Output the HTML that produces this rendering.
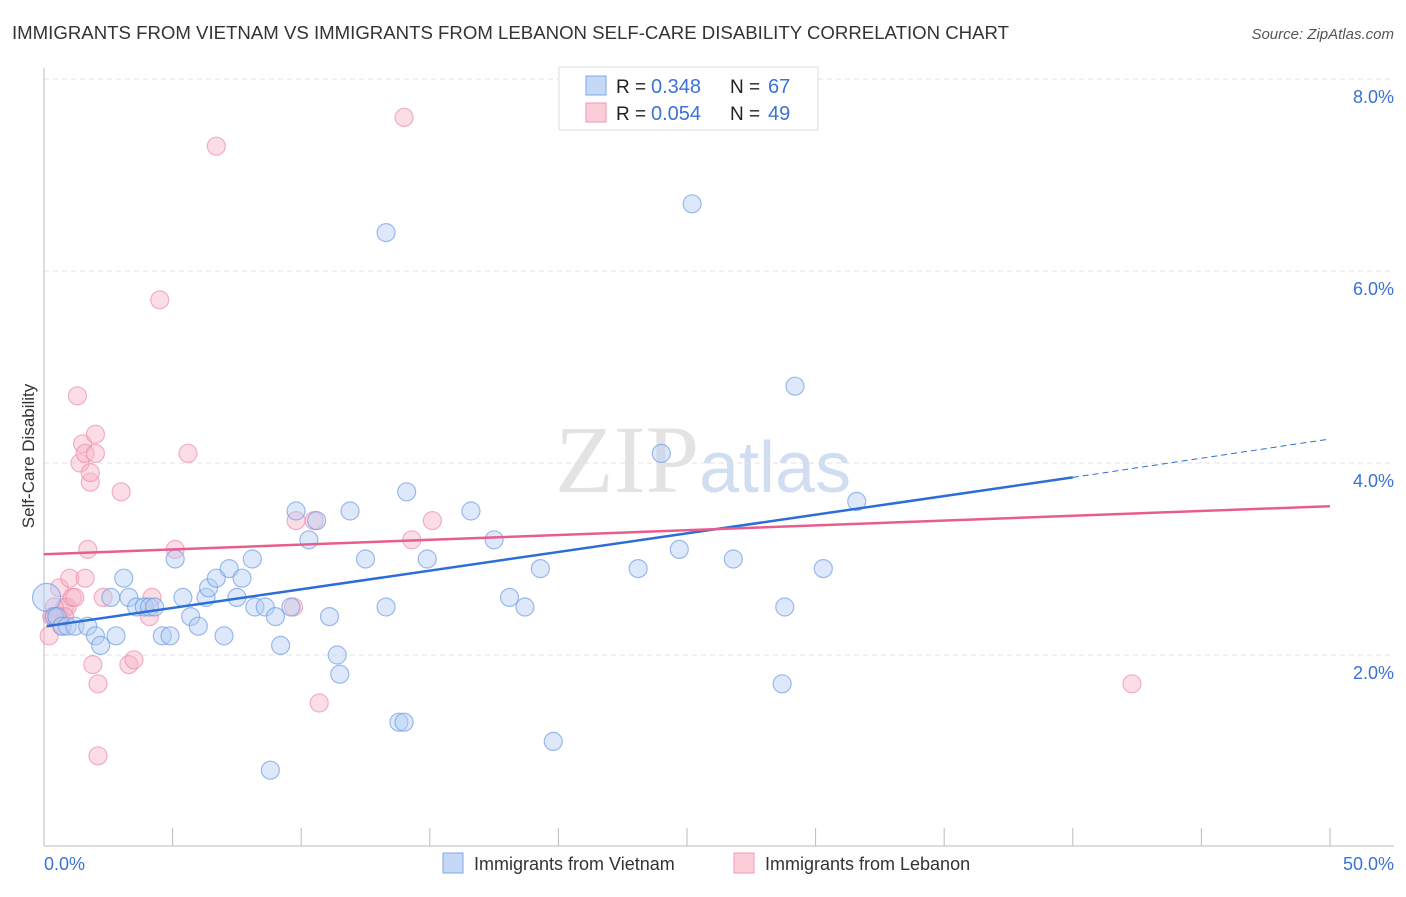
<!DOCTYPE html>
<html><head><meta charset="utf-8"><style>
body{margin:0;background:#fff;font-family:"Liberation Sans",sans-serif}
</style></head><body>
<svg id="chart" width="1406" height="892" xmlns="http://www.w3.org/2000/svg" font-family="Liberation Sans, sans-serif">
<text x="12" y="39" font-size="18" fill="#333" textLength="997" lengthAdjust="spacingAndGlyphs">IMMIGRANTS FROM VIETNAM VS IMMIGRANTS FROM LEBANON SELF-CARE DISABILITY CORRELATION CHART</text>
<text x="1394" y="39" font-size="15" fill="#555" text-anchor="end" font-style="italic">Source: ZipAtlas.com</text>
<text x="555" y="492" font-size="96" fill="#ddd" font-family="Liberation Serif, serif" opacity="0.8">ZIP<tspan fill="#c6d6ee" font-family="Liberation Sans, sans-serif" font-size="72">atlas</tspan></text>
<g id="grid"></g>
<line x1="44" y1="68" x2="44" y2="846" stroke="#bbb"/>
<line x1="44" y1="846" x2="1394" y2="846" stroke="#bbb"/>
<g id="ticks"></g>
<text transform="translate(34,456) rotate(-90)" font-size="17" fill="#333" text-anchor="middle">Self-Care Disability</text>
<text x="44" y="870" font-size="18" fill="#3a72d8">0.0%</text>
<text x="1394" y="870" font-size="18" fill="#3a72d8" text-anchor="end">50.0%</text>
<g id="pts"></g>
<g id="lines"></g>
<g>
<rect x="559" y="67" width="259" height="63" fill="#fff" stroke="#ddd"/>
<rect x="586" y="76" width="20" height="19" fill="#c5d9f6" stroke="#7fa7e6"/>
<rect x="586" y="103" width="20" height="19" fill="#fbcdd9" stroke="#ef9ab3"/>
<text x="616" y="93" font-size="19" fill="#222">R =</text><text x="651" y="93" font-size="20" fill="#3a72d8">0.348</text>
<text x="730" y="93" font-size="19" fill="#222">N =</text><text x="768" y="93" font-size="20" fill="#3a72d8">67</text>
<text x="616" y="120" font-size="19" fill="#222">R =</text><text x="651" y="120" font-size="20" fill="#3a72d8">0.054</text>
<text x="730" y="120" font-size="19" fill="#222">N =</text><text x="768" y="120" font-size="20" fill="#3a72d8">49</text>
</g>
<g><rect x="443" y="853" width="20" height="20" fill="#c5d9f6" stroke="#7fa7e6"/><text x="474" y="870" font-size="18" fill="#333">Immigrants from Vietnam</text></g>
<g><rect x="734" y="853" width="20" height="20" fill="#fbcdd9" stroke="#ef9ab3"/><text x="765" y="870" font-size="18" fill="#333">Immigrants from Lebanon</text></g>
</svg>
<script>
const yTicks=[2,4,6,8];
const xTicks=[0,5,10,15,20,25,30,35,40,45,50];
const blueX=[0.1,0.4,0.5,0.7,0.9,1.2,1.7,2,2.2,2.6,2.8,3.1,3.3,3.6,3.9,4.1,4.3,4.6,4.9,5.1,5.4,5.7,6,6.3,6.4,6.7,7,7.2,7.5,7.7,8.1,8.2,8.6,8.8,9,9.2,9.6,9.8,10.3,10.6,11.1,11.4,11.5,11.9,12.5,13.3,13.3,13.8,14,14.1,14.9,16.6,17.5,18.1,18.7,19.3,19.8,23.1,24,24.7,25.2,26.8,28.7,28.8,29.2,30.3,31.6];
const blueY=[2.6,2.4,2.4,2.3,2.3,2.3,2.3,2.2,2.1,2.6,2.2,2.8,2.6,2.5,2.5,2.5,2.5,2.2,2.2,3,2.6,2.4,2.3,2.6,2.7,2.8,2.2,2.9,2.6,2.8,3,2.5,2.5,0.8,2.4,2.1,2.5,3.5,3.2,3.4,2.4,2,1.8,3.5,3,6.4,2.5,1.3,1.3,3.7,3,3.5,3.2,2.6,2.5,2.9,1.1,2.9,4.1,3.1,6.7,3,1.7,2.5,4.8,2.9,3.6];
const pinkX=[0.2,0.3,0.4,0.5,0.6,0.7,0.8,0.9,1,1.1,1.2,1.3,1.4,1.5,1.6,1.6,1.7,1.8,1.8,1.9,2,2,2.1,2.1,2.3,3,3.3,3.5,4.1,4.2,4.5,5.1,5.6,6.7,9.7,9.8,10.5,10.7,14,14.3,15.1,42.3,0.6,0.8,0.4];
const pinkY=[2.2,2.4,2.4,2.4,2.7,2.3,2.5,2.5,2.8,2.6,2.6,4.7,4,4.2,2.8,4.1,3.1,3.8,3.9,1.9,4.1,4.3,1.7,0.95,2.6,3.7,1.9,1.95,2.4,2.6,5.7,3.1,4.1,7.3,2.5,3.4,3.4,1.5,7.6,3.2,3.4,1.7,2.4,2.4,2.5];
const blueLine=[0.1,2.3,40,3.85,50,4.25];
const pinkLine=[0,3.05,50,3.55];
const X=v=>44+v*25.72, Y=v=>847-v*96;
const NS='http://www.w3.org/2000/svg';
function mk(t,a,p){const e=document.createElementNS(NS,t);for(const k in a)e.setAttribute(k,a[k]);p.appendChild(e);return e;}
const grid=document.getElementById('grid'),ticks=document.getElementById('ticks'),pts=document.getElementById('pts'),lines=document.getElementById('lines');
yTicks.forEach(v=>{
 const l=mk('line',{x1:44,x2:1394,y1:Y(v),y2:Y(v),stroke:'#e2e2e2','stroke-dasharray':'5,4'},grid);
 
 
 const t=mk('text',{x:1394,y:Y(v)+24,'font-size':18,fill:'#3a72d8','text-anchor':'end'},ticks);
 t.textContent=v.toFixed(1)+'%';
 
 
});
xTicks.forEach(v=>{
 const l=mk('line',{x1:X(v),x2:X(v),y1:828,y2:846,stroke:'#bbb'},ticks);
 
 
});
function dots(xs,ys,fill,stroke,name){xs.forEach((x,i)=>{
 const c=mk('circle',{cx:X(x),cy:Y(ys[i]),r:i==0&&name=='point-vietnam'?14:9,fill:fill,'fill-opacity':0.45,stroke:stroke,'stroke-width':1.2,'stroke-opacity':0.65},pts);
 
 
});}
dots(pinkX,pinkY,'#f7b3c7','#ec8aa8','point-lebanon');
dots(blueX,blueY,'#b4cff3','#6a98e2','point-vietnam');
let e=mk('line',{x1:X(blueLine[0]),y1:Y(blueLine[1]),x2:X(blueLine[2]),y2:Y(blueLine[3]),stroke:'#2b6fd6','stroke-width':2.5},lines);


e=mk('line',{x1:X(blueLine[2]),y1:Y(blueLine[3]),x2:X(blueLine[4]),y2:Y(blueLine[5]),stroke:'#2b6fd6','stroke-width':1,'stroke-dasharray':'6,4'},lines);


e=mk('line',{x1:X(pinkLine[0]),y1:Y(pinkLine[1]),x2:X(pinkLine[2]),y2:Y(pinkLine[3]),stroke:'#e85d8c','stroke-width':2.5},lines);


</script>
</body></html>
